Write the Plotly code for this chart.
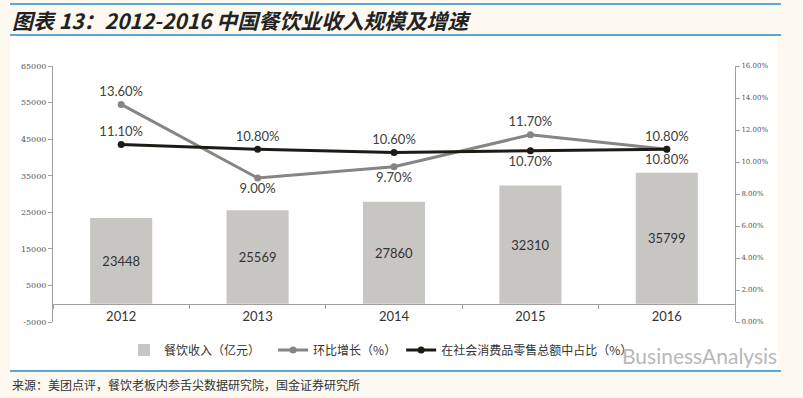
import plotly.graph_objects as go

years = ["2012", "2013", "2014", "2015", "2016"]
revenue = [23448, 25569, 27860, 32310, 35799]
growth = [13.6, 9.0, 9.7, 11.7, 10.8]
share = [11.1, 10.8, 10.6, 10.7, 10.8]
growth_pos = ["top center", "bottom center", "bottom center", "top center", "top center"]
share_pos = ["top center", "top center", "top center", "bottom center", "bottom center"]
left_ticks = [-5000, 5000, 15000, 25000, 35000, 45000, 55000, 65000]
right_ticks = [0, 2, 4, 6, 8, 10, 12, 14, 16]

W, H = 803, 398
L, R, T, B = 53, 735, 66, 322  # plot area in px


def px(x):
    return (x - L) / (R - L)


def py(y):
    return (B - y) / (B - T)


FONT = "Noto Sans CJK SC, Lato, sans-serif"
NB = "\u00a0"
fig = go.Figure()

fig.add_trace(go.Bar(
    x=years, y=revenue, name="餐饮收入（亿元）" + NB * 3,
    marker=dict(color="#c8c6c2", line=dict(width=0)),
    text=[str(v) for v in revenue], textposition="inside",
    insidetextanchor="middle",
    textfont=dict(size=13, color="#333333", family="Lato, sans-serif"),
    yaxis="y",
))
fig.add_trace(go.Scatter(
    x=years, y=growth, name="环比增长（%）", mode="lines+markers+text",
    line=dict(color="#858583", width=3),
    marker=dict(size=7, color="#858583"),
    text=[f"{v:.2f}%" for v in growth], textposition=growth_pos,
    textfont=dict(size=13, color="#404040", family="Lato, sans-serif"),
    yaxis="y2",
))
fig.add_trace(go.Scatter(
    x=years, y=share, name="在社会消费品零售总额中占比（%）", mode="lines+markers+text",
    line=dict(color="#1e1b17", width=3),
    marker=dict(size=7, color="#1e1b17"),
    text=[f"{v:.2f}%" for v in share], textposition=share_pos,
    textfont=dict(size=13, color="#404040", family="Lato, sans-serif"),
    yaxis="y2",
))

shapes = [
    dict(type="rect", xref="paper", yref="paper", x0=px(10), x1=px(778),
         y0=py(370), y1=py(36), fillcolor="white", line=dict(width=0), layer="below"),
    dict(type="line", xref="paper", yref="paper", x0=px(10), x1=px(781),
         y0=py(4), y1=py(4), line=dict(color="#5aa8d5", width=2)),
    dict(type="line", xref="paper", yref="paper", x0=px(10), x1=px(781),
         y0=py(35), y1=py(35), line=dict(color="#5aa8d5", width=2)),
    dict(type="line", xref="paper", yref="paper", x0=px(10), x1=px(781),
         y0=py(371), y1=py(371), line=dict(color="#5aa8d5", width=2)),
]

annotations = [
    dict(text="<b><i>图表 13：2012-2016 中国餐饮业收入规模及增速</i></b>",
         xref="paper", yref="paper", x=px(10), y=py(20), xanchor="left", yanchor="middle",
         showarrow=False, font=dict(size=21, color="#222222", family=FONT)),
    dict(text="来源：美团点评，餐饮老板内参舌尖数据研究院，国金证券研究所",
         xref="paper", yref="paper", x=px(10), y=py(384), xanchor="left", yanchor="middle",
         showarrow=False, font=dict(size=12, color="#333333", family=FONT)),
    dict(text="BusinessAnalysis",
         xref="paper", yref="paper", x=px(779), y=py(355), xanchor="right", yanchor="middle",
         showarrow=False, font=dict(size=21, color="#b8b8b8", family="Lato, sans-serif")),
]

fig.update_layout(
    width=W, height=H,
    margin=dict(l=L, r=W - R, t=T, b=H - B, pad=0, autoexpand=False),
    paper_bgcolor="#fdf9f0", plot_bgcolor="white",
    font=dict(family=FONT, color="#333333"),
    bargap=0.545,
    showlegend=True,
    legend=dict(orientation="h", x=px(124), y=py(350), xanchor="left", yanchor="middle",
                bgcolor="rgba(0,0,0,0)", font=dict(size=12, color="#333333", family=FONT),
                itemwidth=30, tracegroupgap=0),
    xaxis=dict(type="category", anchor="free", position=py(304), showline=True,
               linecolor="#a0a0a0", linewidth=1, ticks="outside", tickson="boundaries",
               ticklen=4, tickcolor="#a0a0a0", showgrid=False,
               tickfont=dict(size=13, color="#333333", family="Lato, sans-serif")),
    yaxis=dict(range=[-5000, 65000], tickvals=left_ticks, ticktext=[str(v) for v in left_ticks],
               showline=True, linecolor="#a0a0a0", linewidth=1, ticks="outside", ticklen=4,
               tickcolor="#a0a0a0", showgrid=False, zeroline=False,
               tickfont=dict(size=8, color="#555555", family="DejaVu Serif, serif")),
    yaxis2=dict(range=[0, 16], overlaying="y", side="right", tickvals=right_ticks,
                ticktext=[f"{v:.2f}%" for v in right_ticks],
                showline=True, linecolor="#a0a0a0", linewidth=1, ticks="outside", ticklen=4,
                tickcolor="#a0a0a0", showgrid=False, zeroline=False,
                tickfont=dict(size=7, color="#555555", family="DejaVu Serif, serif")),
    shapes=shapes,
    annotations=annotations,
)

fig.write_html("out.html", config={"displayModeBar": False},
               post_script="document.body.style.margin='0';document.body.style.overflow='hidden';")
